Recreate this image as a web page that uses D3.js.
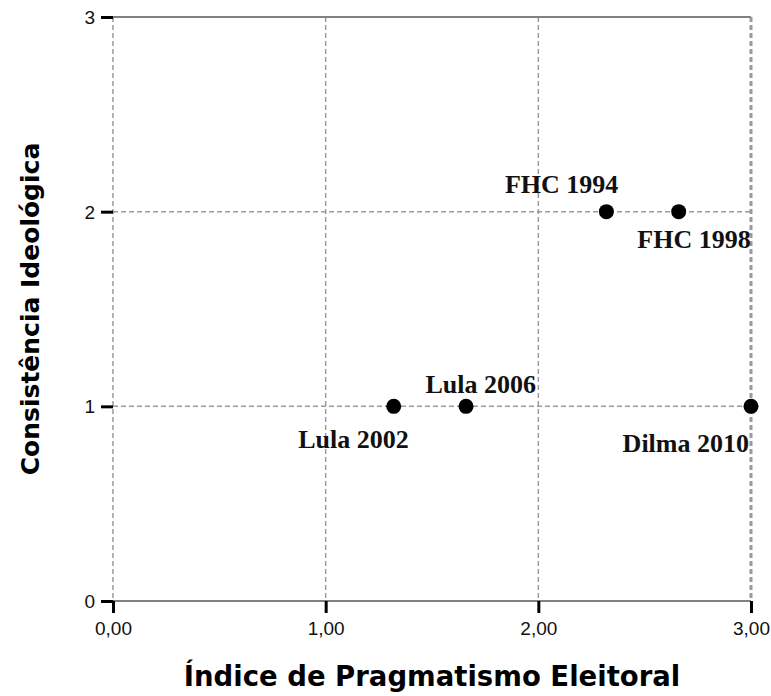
<!DOCTYPE html>
<html>
<head>
<meta charset="utf-8">
<script src="https://cdn.jsdelivr.net/npm/d3@7"></script>
<style>
  body { margin: 0; background: #fff; }
  svg { display: block; }
</style>
</head>
<body>
<div id="chart"></div>
<script>
// Scatter: pragmatism index vs ideological consistency

const names = ['FHC 1994', 'FHC 1998', 'Lula 2002', 'Lula 2006', 'Dilma 2010'];
const pragmatismo = [2.32, 2.66, 1.32, 1.66, 3.00];
const consistencia = [2, 2, 1, 1, 1];

const xTicks = [0, 1, 2, 3];
const yTicks = [0, 1, 2, 3];

// label placement relative to each point (pixels, text-anchor end)
const labelOffsets = [
  { dx: 12, dy: -19 },
  { dx: 72, dy: 36 },
  { dx: 15, dy: 42 },
  { dx: 70, dy: -13 },
  { dx: -2, dy: 46 }
];

const width = 771;
const height = 696;
const margin = { top: 17, right: 20, bottom: 95, left: 113 };

const svg = d3.select('#chart')
  .append('svg')
  .attr('width', width)
  .attr('height', height);

const x = d3.scaleLinear()
  .domain([0, 3])
  .range([margin.left, 751]);

const y = d3.scaleLinear()
  .domain([0, 3])
  .range([601, margin.top]);

const gridColor = '#9a9a9a';
const dash = '5,3';

// Vertical grid lines (incl. left & right edge)
svg.append('g')
  .selectAll('line')
  .data(xTicks)
  .enter()
  .append('line')
  .attr('x1', d => x(d))
  .attr('x2', d => x(d))
  .attr('y1', y(3))
  .attr('y2', y(0))
  .attr('stroke', gridColor)
  .attr('stroke-width', d => d === 3 ? 3 : 1.5)
  .attr('stroke-dasharray', dash);

// Horizontal grid lines
svg.append('g')
  .selectAll('line')
  .data(yTicks.filter(d => d > 0 && d < 3))
  .enter()
  .append('line')
  .attr('x1', x(0))
  .attr('x2', x(3))
  .attr('y1', d => y(d))
  .attr('y2', d => y(d))
  .attr('stroke', gridColor)
  .attr('stroke-width', 1.5)
  .attr('stroke-dasharray', dash);

// Top & bottom frame lines
[0, 3].forEach(v => {
  svg.append('line')
    .attr('x1', x(0))
    .attr('x2', x(3))
    .attr('y1', y(v))
    .attr('y2', y(v))
    .attr('stroke', '#808080')
    .attr('stroke-width', 2);
});

// Axes (ticks only, no domain)
const xAxis = d3.axisBottom(x)
  .tickValues(xTicks)
  .tickSize(12)
  .tickPadding(6)
  .tickFormat(d => d3.format('.2f')(d).replace('.', ','));

const yAxis = d3.axisLeft(y)
  .tickValues(yTicks)
  .tickSize(12)
  .tickPadding(6)
  .tickFormat(d3.format('d'));

const gx = svg.append('g')
  .attr('transform', `translate(0, ${y(0)})`)
  .call(xAxis);

const gy = svg.append('g')
  .attr('transform', `translate(${x(0)}, 0)`)
  .call(yAxis);

[gx, gy].forEach(g => {
  g.select('.domain').remove();
  g.selectAll('.tick line')
    .attr('stroke', '#000')
    .attr('stroke-width', 3);
  g.selectAll('.tick text')
    .style('font-family', '"Liberation Sans", Arial, sans-serif')
    .style('font-size', '19px')
    .attr('fill', '#111');
});

gx.selectAll('.tick text').attr('dy', '0.85em');
gy.selectAll('.tick text').attr('dy', '0.35em');

// Points
const pts = names.map((n, i) => ({ name: n, px: pragmatismo[i], cy: consistencia[i], off: labelOffsets[i] }));

svg.append('g')
  .selectAll('circle')
  .data(pts)
  .enter()
  .append('circle')
  .attr('cx', d => x(d.px))
  .attr('cy', d => y(d.cy))
  .attr('r', 7.5)
  .attr('fill', '#000');

// Point labels
svg.append('g')
  .selectAll('text')
  .data(pts)
  .enter()
  .append('text')
  .attr('x', d => x(d.px) + d.off.dx)
  .attr('y', d => y(d.cy) + d.off.dy)
  .attr('text-anchor', 'end')
  .style('font-family', '"Liberation Serif", "Times New Roman", serif')
  .style('font-weight', 'bold')
  .style('font-size', '26px')
  .attr('fill', '#111')
  .text(d => d.name);

// Axis titles
svg.append('text')
  .attr('x', 432)
  .attr('y', 686)
  .attr('text-anchor', 'middle')
  .style('font-family', '"DejaVu Sans", Verdana, sans-serif')
  .style('font-weight', 'bold')
  .style('font-size', '27.5px')
  .attr('fill', '#000')
  .text('Índice de Pragmatismo Eleitoral');

svg.append('text')
  .attr('transform', 'translate(39, 309) rotate(-90)')
  .attr('text-anchor', 'middle')
  .style('font-family', '"DejaVu Sans", Verdana, sans-serif')
  .style('font-weight', 'bold')
  .style('font-size', '25px')
  .attr('fill', '#000')
  .text('Consistência Ideológica');
</script>
</body>
</html>
